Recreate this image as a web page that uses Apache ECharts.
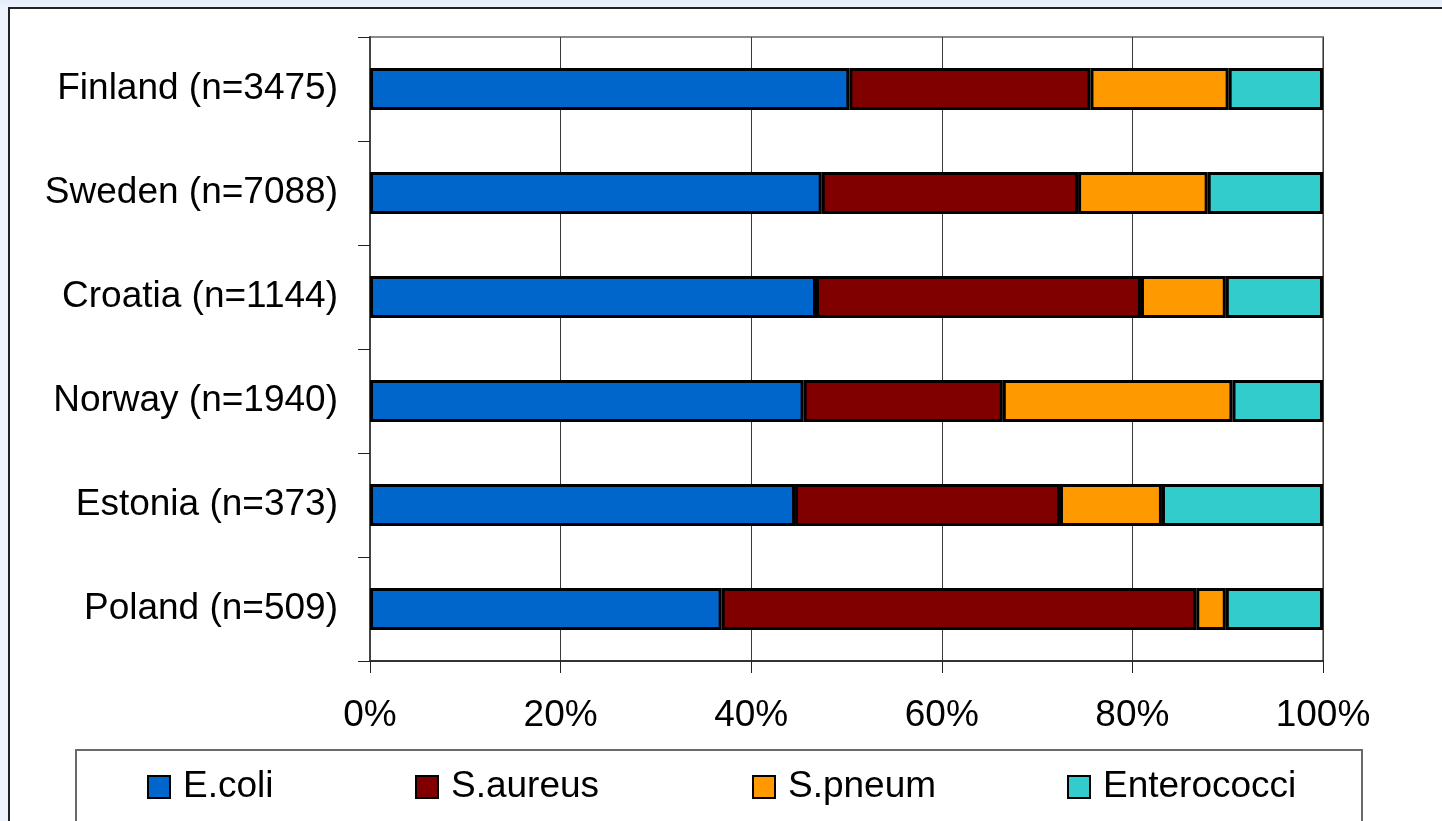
<!DOCTYPE html>
<html>
<head>
<meta charset="utf-8">
<title>Bloodstream isolates by country</title>
<script src="https://cdn.jsdelivr.net/npm/echarts@6/dist/echarts.min.js"></script>
<style>
  html, body { margin: 0; padding: 0; width: 1442px; height: 821px; overflow: hidden;
    background: linear-gradient(#e6edf9, #eef3fc 8px, #eef3fc); }
  #frame { position: absolute; left: 8px; top: 7px; width: 1500px; height: 900px;
    background: #fff; border-left: 2px solid #222; border-top: 2px solid #222; }
  #chart { position: absolute; left: 0; top: 0; width: 1442px; height: 821px; }
</style>
</head>
<body>
<div id="frame"></div>
<div id="chart"></div>
<script>
// Countries, top to bottom, with number of isolates
const countries = ['Finland (n=3475)', 'Sweden (n=7088)', 'Croatia (n=1144)',
                   'Norway (n=1940)', 'Estonia (n=373)', 'Poland (n=509)'];

// Share of isolates (%) per pathogen, same order as countries
const ecoli       = [50.3, 47.4, 46.8, 45.5, 44.6, 36.9];
const saureus     = [25.3, 26.9, 34.1, 20.9, 27.8, 49.8];
const spneum      = [14.5, 13.6,  8.9, 24.1, 10.7,  3.1];
const enterococci = [ 9.9, 12.1, 10.2,  9.5, 16.9, 10.2];

const seriesNames = ['E.coli', 'S.aureus', 'S.pneum', 'Enterococci'];
const seriesData  = [ecoli, saureus, spneum, enterococci];
const colors      = ['#0066CC', '#800000', '#FF9900', '#33CCCC'];

// x-axis ticks: 0% .. 100%
const tickStep = 20;

const font = '"Liberation Sans", Arial, sans-serif';
const fontSize = 37;
const legendLeft = [147, 415, 752, 1067];

const chart = echarts.init(document.getElementById('chart'), null, { renderer: 'canvas' });

chart.setOption({
  animation: false,
  backgroundColor: 'transparent',
  textStyle: { fontFamily: font },
  grid: {
    left: 370, right: 119, top: 37, bottom: 160,
    show: true, borderColor: '#8a8a8a', borderWidth: 2, backgroundColor: '#fff'
  },
  xAxis: {
    type: 'value', min: 0, max: 100, interval: tickStep,
    axisLine: { show: true, lineStyle: { color: '#333', width: 2 } },
    axisTick: { show: true, length: 12, lineStyle: { color: '#222', width: 1 } },
    axisLabel: { formatter: '{value}%', color: '#000', fontSize: fontSize, fontFamily: font, margin: 36 },
    splitLine: { show: true, lineStyle: { color: '#3a3a3a', width: 1 } }
  },
  yAxis: {
    type: 'category', data: countries, inverse: true,
    axisLine: { show: true, lineStyle: { color: '#444', width: 2 } },
    axisTick: { show: true, length: 12, lineStyle: { color: '#222', width: 1 } },
    axisLabel: { color: '#000', fontSize: fontSize, fontFamily: font, margin: 32 },
    splitLine: { show: false }
  },
  legend: seriesNames.map((name, i) => ({
    data: [name],
    left: legendLeft[i], top: 768,
    padding: 0,
    itemWidth: 22, itemHeight: 22,
    icon: 'rect',
    itemStyle: { borderColor: '#000', borderWidth: 2 },
    textStyle: { color: '#000', fontSize: fontSize, fontFamily: font, lineHeight: 38, padding: [0, 0, 0, 8] },
    selectedMode: false
  })),
  graphic: [{
    type: 'rect', left: 75, top: 749,
    shape: { width: 1286, height: 120 },
    style: { fill: 'transparent', stroke: '#6a6a6a', lineWidth: 2 },
    z: -1
  }],
  series: seriesNames.map((name, i) => ({
    name: name,
    type: 'bar',
    stack: 'total',
    data: seriesData[i],
    barWidth: 42,
    itemStyle: { color: colors[i], borderColor: '#000', borderWidth: 3 }
  }))
});
</script>
</body>
</html>
